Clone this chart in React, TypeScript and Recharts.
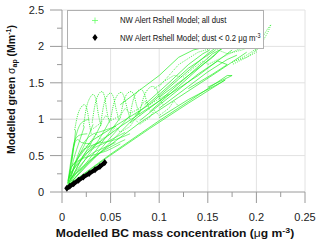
import React from 'react';
import { ComposedChart, Line, XAxis, YAxis, ReferenceLine } from 'recharts';

type P = { x: number; y: number };
const pts = (a: number[][]): P[] => a.map(([x, y]) => ({ x, y }));

// ---- tick values ----
const xTicks = [0, 0.025, 0.05, 0.075, 0.1, 0.125, 0.15, 0.175, 0.2, 0.225, 0.25];
const xLabels: Record<string, string> = { '0': '0', '0.05': '0.05', '0.1': '0.1', '0.15': '0.15', '0.2': '0.2', '0.25': '0.25' };
const yTicks = [0, 0.25, 0.5, 0.75, 1, 1.25, 1.5, 1.75, 2, 2.25, 2.5];
const yLabels: Record<string, string> = { '0': '0', '0.5': '0.5', '1': '1', '1.5': '1.5', '2': '2', '2.5': '2.5' };
const xGrid = [0.05, 0.1, 0.15, 0.2, 0.25];
const yGrid = [0.5, 1, 1.5, 2, 2.5];

// ---- green series: NW Alert Rshell Model; all dust ----
// fan of strands rising from the origin
const fan1 = pts([[0.006, 0.1], [0.009, 0.35], [0.012, 0.6], [0.014, 0.85]]);
const fan2 = pts([[0.006, 0.12], [0.012, 0.45], [0.018, 0.7], [0.023, 0.9]]);
const fan3 = pts([[0.007, 0.12], [0.016, 0.45], [0.025, 0.7], [0.032, 0.93]]);
const fan4 = pts([[0.007, 0.1], [0.02, 0.45], [0.032, 0.72], [0.041, 0.95]]);
const fan5 = pts([[0.008, 0.12], [0.024, 0.45], [0.038, 0.72], [0.05, 1.0]]);
const fan6 = pts([[0.008, 0.1], [0.028, 0.45], [0.045, 0.75], [0.06, 1.02]]);
const fan7 = pts([[0.009, 0.12], [0.032, 0.47], [0.052, 0.78], [0.07, 1.05]]);
const fan8 = pts([[0.01, 0.15], [0.036, 0.5], [0.06, 0.82], [0.08, 1.1]]);
const fan9 = pts([[0.006, 0.15], [0.01, 0.35], [0.02, 0.45], [0.03, 0.5], [0.045, 0.56], [0.06, 0.66]]);
const fan10 = pts([[0.007, 0.18], [0.015, 0.38], [0.03, 0.58], [0.045, 0.68], [0.065, 0.82]]);
const fan11 = pts([[0.008, 0.2], [0.02, 0.55], [0.035, 0.66], [0.05, 0.7], [0.07, 0.8]]);
const fan12 = pts([[0.01, 0.42], [0.012, 0.62], [0.016, 0.72], [0.02, 0.68], [0.03, 0.66]]);
const fan13 = pts([[0.006, 0.1], [0.014, 0.3], [0.022, 0.5], [0.03, 0.62], [0.04, 0.7]]);
const fan14 = pts([[0.007, 0.14], [0.018, 0.35], [0.03, 0.52], [0.042, 0.6], [0.055, 0.68]]);
const fan15 = pts([[0.008, 0.16], [0.022, 0.36], [0.035, 0.5], [0.05, 0.62], [0.065, 0.72]]);
const fan16 = pts([[0.006, 0.12], [0.01, 0.5], [0.013, 0.7], [0.018, 0.78], [0.026, 0.8]]);
const fan17 = pts([[0.007, 0.15], [0.011, 0.55], [0.015, 0.8], [0.02, 0.95], [0.028, 1.0]]);
const fan18 = pts([[0.009, 0.2], [0.02, 0.62], [0.03, 0.78], [0.04, 0.83], [0.055, 0.9]]);
// narrow arches (feathers) along the top of the fan
const arch1 = pts([[0.013, 0.85], [0.016, 1.05], [0.02, 1.17], [0.023, 1.2], [0.026, 1.12], [0.028, 0.95], [0.03, 0.8]]);
const arch2 = pts([[0.022, 0.9], [0.025, 1.15], [0.029, 1.3], [0.032, 1.34], [0.035, 1.27], [0.037, 1.1], [0.04, 0.9]]);
const arch3 = pts([[0.031, 0.95], [0.034, 1.2], [0.038, 1.35], [0.041, 1.38], [0.044, 1.3], [0.046, 1.12], [0.049, 0.95]]);
const arch4 = pts([[0.04, 0.95], [0.043, 1.2], [0.047, 1.33], [0.05, 1.36], [0.053, 1.3], [0.056, 1.12], [0.059, 0.98]]);
const arch5 = pts([[0.05, 1.0], [0.053, 1.2], [0.057, 1.33], [0.061, 1.37], [0.064, 1.3], [0.067, 1.15], [0.07, 1.0]]);
const arch6 = pts([[0.06, 1.02], [0.063, 1.22], [0.067, 1.35], [0.071, 1.38], [0.074, 1.33], [0.077, 1.18], [0.08, 1.05]]);
const arch7 = pts([[0.07, 1.05], [0.073, 1.25], [0.077, 1.37], [0.081, 1.41], [0.084, 1.37], [0.087, 1.25], [0.09, 1.12]]);
const arch8 = pts([[0.08, 1.1], [0.084, 1.3], [0.089, 1.42], [0.093, 1.45], [0.097, 1.42], [0.1, 1.3], [0.104, 1.2]]);
// wavy inner strands
const wave1 = pts([[0.02, 0.55], [0.03, 0.7], [0.035, 0.8], [0.04, 0.72], [0.05, 0.8], [0.055, 0.9], [0.06, 0.82], [0.07, 0.9], [0.075, 1.0], [0.08, 0.93], [0.09, 1.02], [0.095, 1.12], [0.1, 1.05], [0.11, 1.15], [0.115, 1.25], [0.12, 1.18]]);
const wave2 = pts([[0.03, 0.85], [0.04, 0.95], [0.045, 1.05], [0.05, 0.98], [0.06, 1.05], [0.065, 1.15], [0.07, 1.08], [0.08, 1.15], [0.085, 1.25], [0.09, 1.2], [0.1, 1.28], [0.11, 1.35]]);
// lower diagonal band
const low1 = pts([[0.006, 0.08], [0.045, 0.46], [0.09, 0.87], [0.13, 1.22], [0.168, 1.54], [0.163, 1.5], [0.13, 1.27], [0.1, 1.02]]);
const low2 = pts([[0.007, 0.1], [0.05, 0.52], [0.1, 0.98], [0.14, 1.33], [0.17, 1.6], [0.175, 1.6], [0.15, 1.44]]);
const low3 = pts([[0.008, 0.18], [0.04, 0.55], [0.08, 0.95], [0.12, 1.3], [0.16, 1.65], [0.19, 1.92]]);
const low4 = pts([[0.008, 0.25], [0.03, 0.6], [0.06, 0.9], [0.1, 1.25], [0.14, 1.6], [0.175, 1.95]]);
const low5 = pts([[0.01, 0.35], [0.03, 0.7], [0.06, 0.95], [0.09, 1.2], [0.12, 1.55], [0.15, 1.9], [0.16, 2.0]]);
// upper diagonal band
const diag1 = pts([[0.07, 0.95], [0.1, 1.25], [0.13, 1.6], [0.155, 1.9], [0.165, 1.97]]);
const diag2 = pts([[0.075, 1.05], [0.105, 1.4], [0.13, 1.7], [0.15, 1.88], [0.158, 1.95]]);
const diag3 = pts([[0.08, 0.98], [0.11, 1.3], [0.14, 1.62], [0.16, 1.8], [0.17, 1.75], [0.155, 1.62], [0.13, 1.42]]);
const diag4 = pts([[0.09, 1.1], [0.12, 1.45], [0.145, 1.75], [0.16, 1.92]]);
const diag5 = pts([[0.085, 1.2], [0.11, 1.5], [0.13, 1.75], [0.145, 1.9], [0.152, 1.95]]);
const diag6 = pts([[0.1, 1.15], [0.13, 1.45], [0.15, 1.65], [0.17, 1.82], [0.18, 1.88]]);
const upper1 = pts([[0.06, 1.2], [0.08, 1.4], [0.1, 1.6], [0.12, 1.85], [0.135, 1.95], [0.15, 2.0], [0.16, 2.03], [0.165, 1.98], [0.155, 1.85], [0.14, 1.7], [0.12, 1.5], [0.1, 1.3]]);
const upper2 = pts([[0.1, 1.45], [0.12, 1.75], [0.14, 1.92], [0.155, 1.98], [0.17, 1.9], [0.185, 1.95], [0.2, 2.03], [0.205, 2.0], [0.19, 1.85], [0.175, 1.75]]);
const upper3 = pts([[0.095, 1.42], [0.105, 1.52], [0.115, 1.6], [0.125, 1.58], [0.135, 1.7], [0.145, 1.8], [0.15, 1.76]]);
const right1 = pts([[0.15, 1.75], [0.165, 1.85], [0.18, 1.95], [0.19, 2.0], [0.198, 1.98], [0.2, 1.92], [0.19, 1.85], [0.178, 1.8]]);
const right2 = pts([[0.175, 1.78], [0.19, 1.88], [0.2, 1.97], [0.207, 2.08], [0.212, 2.2], [0.215, 2.3], [0.212, 2.25], [0.205, 2.1], [0.197, 2.0]]);

const fanSeries = [fan1, fan2, fan3, fan4, fan5, fan6, fan7, fan8, fan9, fan10, fan11, fan12, fan13, fan14, fan15, fan16, fan17, fan18];
const archSeries = [arch1, arch2, arch3, arch4, arch5, arch6, arch7, arch8];
const solidSeries = [low1, low2, low3, low4, low5, diag1, diag2, diag3, diag4, diag5, diag6, upper1];
const dottedSeries = [wave1, wave2, upper2, upper3, right1, right2];

// ---- black series: NW Alert Rshell Model; dust < 0.2 ug m-3 ----
const lowDust = pts([[0.005, 0.05], [0.008, 0.08], [0.012, 0.115], [0.017, 0.16], [0.022, 0.205], [0.028, 0.255], [0.034, 0.305], [0.039, 0.35], [0.044, 0.405]]);

const GREEN = '#22ee22';
const AXIS = '#9a9a9a';
const FONT = 'Arial, "Liberation Sans", sans-serif';

const keyOf = (v: number) => String(+v.toFixed(3));

const XTick = (props: any) => {
  const { x, y, payload } = props;
  const lab = xLabels[keyOf(payload.value)];
  return (
    <g>
      <line x1={x} y1={y} x2={x} y2={y + (lab !== undefined ? 11 : 5)} stroke={AXIS} />
      {lab !== undefined && (
        <text x={x} y={y + 29} textAnchor="middle" fontSize={11} fontFamily={FONT} fill="#222">{lab}</text>
      )}
    </g>
  );
};

const YTick = (props: any) => {
  const { x, y, payload } = props;
  const lab = yLabels[keyOf(payload.value)];
  return (
    <g>
      <line x1={x} y1={y} x2={x - (lab !== undefined ? 12 : 5)} y2={y} stroke={AXIS} />
      {lab !== undefined && (
        <text x={x - 18} y={y} dy="0.36em" textAnchor="end" fontSize={11} fontFamily={FONT} fill="#222">{lab}</text>
      )}
    </g>
  );
};

const Diamond = (props: any) => {
  const { cx, cy, index } = props;
  if (cx == null || cy == null) return <g key={index} />;
  return <path key={index} d={`M${cx},${cy - 3.5}L${cx + 2.6},${cy}L${cx},${cy + 3.5}L${cx - 2.6},${cy}Z`} fill="#000" />;
};

export default function App() {
  return (
    <div style={{ position: 'absolute', left: 0, top: 0, width: 320, height: 242, background: '#fff' }}>
      <ComposedChart width={320} height={242} margin={{ top: 10, right: 15, left: 0, bottom: 0 }}>
        <XAxis dataKey="x" type="number" domain={[0, 0.25]} ticks={xTicks} interval={0} height={50}
          tickSize={0} tickMargin={0} tickLine={false} tick={<XTick />} axisLine={{ stroke: AXIS }} allowDataOverflow />
        <YAxis type="number" domain={[0, 2.5]} ticks={yTicks} interval={0} width={62}
          tickSize={0} tickMargin={0} tickLine={false} tick={<YTick />} axisLine={{ stroke: AXIS }} allowDataOverflow />
        {xGrid.map((v) => (
          <ReferenceLine key={'gx' + v} x={v} stroke="#e2e2e2" strokeWidth={1} />
        ))}
        {yGrid.map((v) => (
          <ReferenceLine key={'gy' + v} y={v} stroke="#e2e2e2" strokeWidth={1} />
        ))}
        {fanSeries.map((s, i) => (
          <Line key={'f' + i} data={s} dataKey="y" type="monotone" stroke={GREEN} strokeWidth={0.6}
            dot={false} activeDot={false} isAnimationActive={false} legendType="none" />
        ))}
        {archSeries.map((s, i) => (
          <Line key={'a' + i} data={s} dataKey="y" type="monotone" stroke={GREEN} strokeWidth={0.8}
            strokeDasharray="1.2 1" dot={false} activeDot={false} isAnimationActive={false} legendType="none" />
        ))}
        {solidSeries.map((s, i) => (
          <Line key={'s' + i} data={s} dataKey="y" type="linear" stroke={GREEN} strokeWidth={0.7}
            dot={false} activeDot={false} isAnimationActive={false} legendType="none" />
        ))}
        {dottedSeries.map((s, i) => (
          <Line key={'d' + i} data={s} dataKey="y" type="linear" stroke={GREEN} strokeWidth={0.8}
            strokeDasharray="1 1.2" dot={false} activeDot={false} isAnimationActive={false} legendType="none" />
        ))}
        <Line data={lowDust} dataKey="y" type="linear" stroke="#000" strokeWidth={4.2}
          dot={<Diamond />} activeDot={false} isAnimationActive={false} legendType="none" />
      </ComposedChart>
      <svg width={320} height={242} style={{ position: 'absolute', left: 0, top: 0, pointerEvents: 'none' }}>
        <rect x={67.5} y={10.5} width={196} height={38} fill="#fff" stroke="#b0b0b0" />
        <path d="M92,20.5h6M95,17.5v6" stroke="#66ff66" strokeWidth={0.8} />
        <path d="M95,34L97.6,37.5L95,41L92.4,37.5Z" fill="#000" />
        <g transform="translate(120,23.3) scale(0.835,1)">
          <text fontSize={9.3} fontFamily={FONT} fill="#111">NW Alert Rshell Model; all dust</text>
        </g>
        <g transform="translate(120,41) scale(0.835,1)">
          <text fontSize={9.3} fontFamily={FONT} fill="#111">
            NW Alert Rshell Model; dust &lt; 0.2 μg m<tspan fontSize={6.5} dy={-3.5}>-3</tspan>
          </text>
        </g>
        <g transform="translate(175,236.5) scale(1.1,1)">
          <text textAnchor="middle" fontSize={11} fontWeight="bold" fontFamily={FONT} fill="#111">
            Modelled BC mass concentration  (<tspan fontWeight="normal">μ</tspan>g m<tspan fontSize={8} dy={-4}>-3</tspan><tspan dy={4}>)</tspan>
          </text>
        </g>
        <g transform="translate(14.5,89.5) rotate(-90)">
          <text textAnchor="middle" fontSize={10.5} fontWeight="bold" fontFamily={FONT} fill="#111">
            Modelled green <tspan fontWeight="normal">σ</tspan><tspan fontSize={7} dy={2.5}>ap</tspan><tspan dy={-2.5}> (Mm</tspan><tspan fontSize={7} dy={-4}>-1</tspan><tspan dy={4}>)</tspan>
          </text>
        </g>
      </svg>
    </div>
  );
}
